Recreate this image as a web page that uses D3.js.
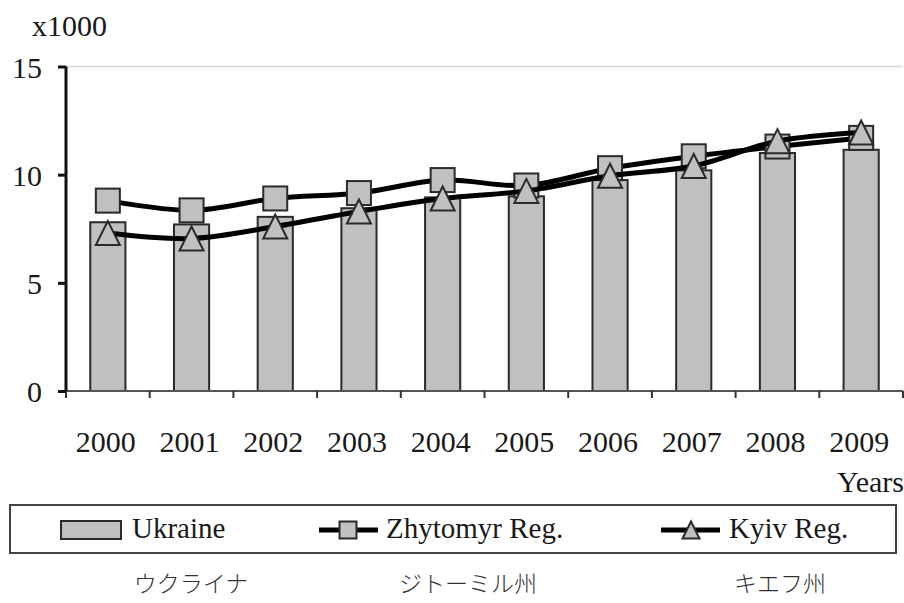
<!DOCTYPE html>
<html>
<head>
<meta charset="utf-8">
<script src="https://cdn.jsdelivr.net/npm/d3@7"></script>
<style>
  body { margin: 0; background: #fff; }
  text { font-family: "Liberation Serif", "Times New Roman", serif; fill: #1a1a1a; }
  .jp { font-family: "Noto Sans CJK JP", sans-serif; font-weight: 300; fill: #333; }
</style>
</head>
<body>
<div id="chart"></div>
<script>
// data (thousands)
var years = ["2000","2001","2002","2003","2004","2005","2006","2007","2008","2009"];
var ukraine  = [7.8, 7.7, 8.05, 8.45, 8.95, 9.0, 9.75, 10.2, 11.0, 11.15];
var zhytomyr = [8.8, 8.35, 8.9, 9.15, 9.75, 9.5, 10.3, 10.85, 11.3, 11.7];
var kyiv     = [7.3, 7.05, 7.6, 8.3, 8.9, 9.25, 9.95, 10.4, 11.55, 11.95];
var yTicks = [0, 5, 10, 15];
var legendNames = ["Ukraine", "Zhytomyr Reg.", "Kyiv Reg."];
var jpNames = ["ウクライナ", "ジトーミル州", "キエフ州"];

var W = 904, H = 603;
var svg = d3.select("#chart").append("svg")
  .attr("width", W).attr("height", H);

// scales
var x = d3.scaleBand().domain(years).range([66, 903]).paddingInner(0).paddingOuter(0);
var y = d3.scaleLinear().domain([0, 15]).range([391, 66.5]);

// top border line at 15
svg.append("line")
  .attr("x1", 66).attr("x2", 903)
  .attr("y1", y(15)).attr("y2", y(15))
  .attr("stroke", "#d8d8d8").attr("stroke-width", 1.5);

// bars
var bw = x.bandwidth() * 0.42;
svg.selectAll(".bar").data(ukraine).enter().append("rect")
  .attr("class", "bar")
  .attr("x", function(d, i) { return x(years[i]) + x.bandwidth()/2 - bw/2; })
  .attr("y", function(d) { return y(d); })
  .attr("width", bw)
  .attr("height", function(d) { return y(0) - y(d); })
  .attr("fill", "#c0c0c0")
  .attr("stroke", "#2a2a2a").attr("stroke-width", 2);

// x axis
svg.append("line")
  .attr("x1", 66).attr("x2", 903).attr("y1", y(0)).attr("y2", y(0))
  .attr("stroke", "#555").attr("stroke-width", 2);
var bounds = years.map(function(d) { return x(d); }).concat([903]);
svg.selectAll(".xtick").data(bounds).enter().append("line")
  .attr("x1", function(d) { return d; }).attr("x2", function(d) { return d; })
  .attr("y1", y(0)).attr("y2", y(0) + 7)
  .attr("stroke", "#333").attr("stroke-width", 2);
svg.selectAll(".xlab").data(years).enter().append("text")
  .attr("x", function(d) { return x(d) + x.bandwidth()/2 - 2; })
  .attr("y", 452)
  .attr("text-anchor", "middle")
  .style("font-size", "30px")
  .text(function(d) { return d; });

// y axis
var yAxis = svg.append("g")
  .attr("transform", "translate(66,0)")
  .call(d3.axisLeft(y).tickValues(yTicks).tickSize(8).tickPadding(16));
yAxis.select(".domain").attr("stroke", "#111").attr("stroke-width", 3)
  .attr("d", "M0," + y(15) + "V" + y(0));
yAxis.selectAll(".tick line").attr("stroke", "#111").attr("stroke-width", 3);
yAxis.selectAll(".tick text")
  .style("font-size", "30px")
  .style("font-family", "Liberation Serif, serif")
  .attr("fill", "#1a1a1a")
  .attr("dy", "0.36em");

svg.append("text").attr("x", 32).attr("y", 36)
  .style("font-size", "30px").text("x1000");
svg.append("text").attr("x", 904).attr("y", 492)
  .attr("text-anchor", "end")
  .style("font-size", "30px").text("Years");

// lines
var cx = function(i) { return x(years[i]) + x.bandwidth()/2; };
var line = d3.line()
  .x(function(d, i) { return cx(i); })
  .y(function(d) { return y(d); })
  .curve(d3.curveCatmullRom);

function square(g, px, py, s) {
  g.append("rect")
    .attr("x", px - s/2).attr("y", py - s/2)
    .attr("width", s).attr("height", s)
    .attr("fill", "#c0c0c0").attr("stroke", "#2a2a2a").attr("stroke-width", 2);
}
function triangle(g, px, py, s) {
  g.append("path")
    .attr("transform", "translate(" + px + "," + py + ")")
    .attr("d", "M0," + (-s/2) + "L" + (s/2) + "," + (s/2) + "L" + (-s/2) + "," + (s/2) + "Z")
    .attr("fill", "#c0c0c0").attr("stroke", "#2a2a2a").attr("stroke-width", 2)
    .attr("stroke-linejoin", "miter");
}

svg.append("path").datum(zhytomyr)
  .attr("d", line).attr("fill", "none")
  .attr("stroke", "#000").attr("stroke-width", 5);
var gz = svg.append("g");
zhytomyr.forEach(function(d, i) { square(gz, cx(i), y(d), 24); });

svg.append("path").datum(kyiv)
  .attr("d", line).attr("fill", "none")
  .attr("stroke", "#000").attr("stroke-width", 5);
var gk = svg.append("g");
kyiv.forEach(function(d, i) { triangle(gk, cx(i), y(d), 24); });

// legend
var lg = svg.append("g");
lg.append("rect").attr("x", 10).attr("y", 505).attr("width", 886).attr("height", 48)
  .attr("fill", "none").attr("stroke", "#444").attr("stroke-width", 2);
lg.append("rect").attr("x", 61).attr("y", 521).attr("width", 60).attr("height", 18)
  .attr("fill", "#c0c0c0").attr("stroke", "#2a2a2a").attr("stroke-width", 2);
lg.append("text").attr("x", 132).attr("y", 538).style("font-size", "29px").text(legendNames[0]);

lg.append("line").attr("x1", 319).attr("x2", 378).attr("y1", 530).attr("y2", 530)
  .attr("stroke", "#000").attr("stroke-width", 5);
square(lg, 348, 530, 17);
lg.append("text").attr("x", 386).attr("y", 538).style("font-size", "29px").text(legendNames[1]);

lg.append("line").attr("x1", 661).attr("x2", 720).attr("y1", 530).attr("y2", 530)
  .attr("stroke", "#000").attr("stroke-width", 5);
triangle(lg, 691, 530, 17);
lg.append("text").attr("x", 729).attr("y", 538).style("font-size", "29px").text(legendNames[2]);

// japanese captions
var jpX = [191, 468, 780];
svg.selectAll(".jp").data(jpNames).enter().append("text")
  .attr("class", "jp")
  .attr("x", function(d, i) { return jpX[i]; })
  .attr("y", 592)
  .attr("text-anchor", "middle")
  .style("font-size", "23px")
  .text(function(d) { return d; });
</script>
</body>
</html>
